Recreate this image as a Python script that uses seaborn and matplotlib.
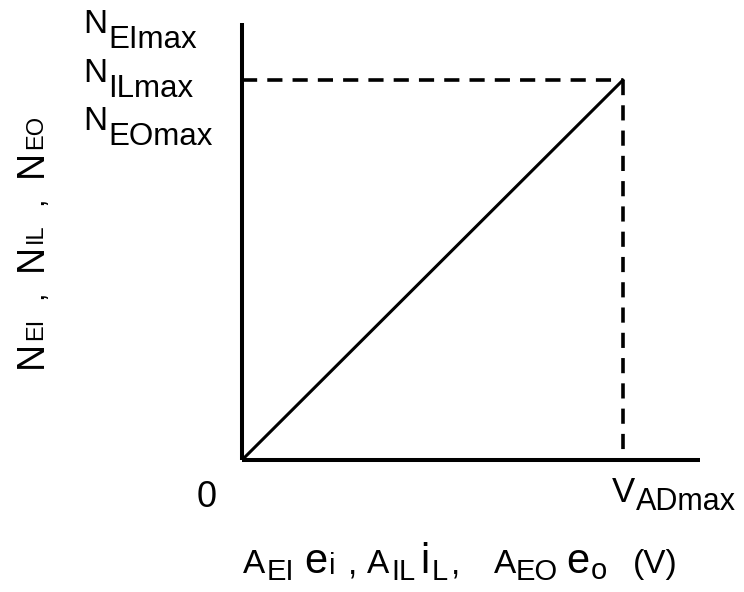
import matplotlib
matplotlib.use("Agg")
import matplotlib.pyplot as plt
import seaborn as sns
import pandas as pd

sns.set_theme(style="white")
plt.rcParams["font.family"] = ["Liberation Sans", "DejaVu Sans"]
plt.rcParams["text.color"] = "black"

# Transfer characteristic: normalised input (0 .. V_ADmax) -> count (0 .. N_max)
x_input = [0.0, 1.0]
n_count = [0.0, 1.0]
x_max = 1.0
n_max = 1.0

# full-scale count labels: (main, subscript)
y_tick_labels = [("N", "EImax"), ("N", "ILmax"), ("N", "EOmax")]
x_zero_label = "0"
x_end_label = ("V", "ADmax")
y_title_runs = ["N", "EI", ",", "N", "IL", ",", "N", "EO"]
x_title_runs = ["A", "EI", "e", "i", ",", "A", "IL", "i", "L", ",", "A", "EO", "e", "o", "(V)"]

W, H = 744, 592

df = pd.DataFrame({"x": x_input, "n": n_count})

fig = plt.figure(figsize=(W / 100, H / 100), dpi=100)
ax = fig.add_axes([242 / W, 1 - 460 / H, 458 / W, 437 / H])

sns.lineplot(data=df, x="x", y="n", ax=ax, color="black", linewidth=2.2)

# dashed guides to the full-scale point
ax.plot([0, x_max], [n_max, n_max], color="black", lw=2.6, dashes=(4.2, 2.8))
ax.plot([x_max, x_max], [n_max, 0], color="black", lw=2.6, dashes=(4.2, 2.8))

ax.set_xlim(0, 1.202)
ax.set_ylim(0, 1.15)
ax.set_xticks([])
ax.set_yticks([])
ax.set_xlabel("")
ax.set_ylabel("")
for side in ["top", "right"]:
    ax.spines[side].set_visible(False)
for side in ["left", "bottom"]:
    ax.spines[side].set_color("black")
    ax.spines[side].set_linewidth(2.9)
    ax.spines[side].set_capstyle("butt")

renderer = fig.canvas.get_renderer()


def put(x, y, s, size, ha="left", rotation=0):
    """Place text with its baseline anchored at pixel (x, y), measured from the top left."""
    return fig.text(x / W, 1 - y / H, s, fontsize=size, ha=ha, va="baseline",
                    rotation=rotation, rotation_mode="anchor", color="black")


def flow(start, base, runs, texts, vertical=False):
    """Lay text runs one after another; runs hold (size, gap_before, drop)."""
    pos = start
    for s, (size, gap, drop) in zip(texts, runs):
        if vertical:
            pos -= gap
            t = put(base + drop, pos, s, size, rotation=90)
            pos -= t.get_window_extent(renderer).height
        else:
            pos += gap
            t = put(pos, base + drop, s, size)
            pos += t.get_window_extent(renderer).width


# full-scale counts at the top left
for (main, sub), base in zip(y_tick_labels, [33, 82, 130]):
    flow(83, base, [(24, 0, 0), (22.5, 1, 15)], [main, sub])

# axis end labels
put(207, 507, x_zero_label, 26, ha="center")
flow(612, 502, [(25, 0, 0), (22, 1, 8)], list(x_end_label))

# vertical axis title, reading upwards
y_runs = [(27, 0, 0), (17, 1, 0), (22, 19, 0), (27, 19, 0), (17, 1, 0),
          (22, 19, 0), (27, 19, 0), (17, 1, 0)]
flow(368, 42, y_runs, y_title_runs, vertical=True)

# horizontal axis title with enlarged signal symbols
x_runs = [(24, 0, 0), (21, 1, 7), (30, 10, 0), (21, 2, 1), (24, 13, 0),
          (24, 9, 0), (21, 2, 7), (30, 5, 0), (21, 2, 7), (24, 4, 0),
          (24, 33, 0), (21, 0, 7), (30, 8, 0), (21, 2, 6), (24, 26, 0)]
flow(243, 573, x_runs, x_title_runs)

fig.savefig("out.png", dpi=100, facecolor="white")
